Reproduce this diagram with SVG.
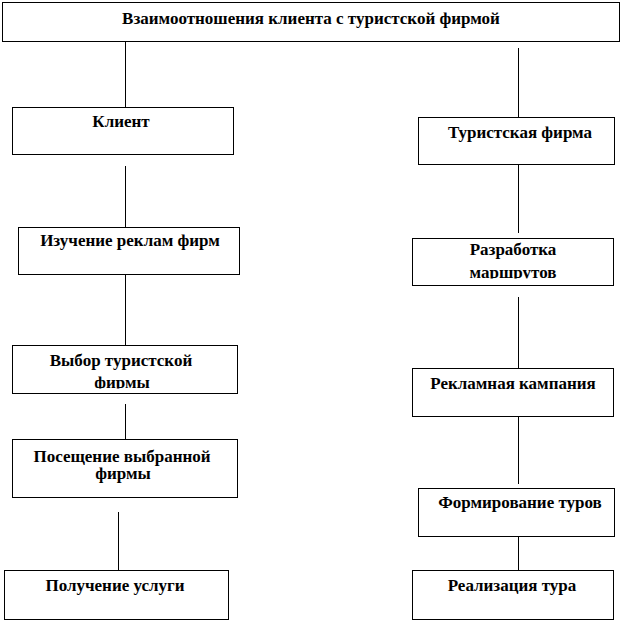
<svg xmlns="http://www.w3.org/2000/svg" width="623" height="623" viewBox="0 0 623 623">
<defs>
<clipPath id="cpVybor"><rect x="12" y="345" width="226" height="43.5"/></clipPath>
<clipPath id="cpRazr"><rect x="412" y="238" width="202" height="40.5"/></clipPath>
</defs>
<rect width="623" height="623" fill="#fff"/>
<g id="connectors" stroke="#000" stroke-width="1" fill="none">
<line x1="125.5" y1="41" x2="125.5" y2="107"/>
<line x1="518.5" y1="48" x2="518.5" y2="117"/>
<line x1="125.5" y1="166" x2="125.5" y2="232"/>
<line x1="125.5" y1="274" x2="125.5" y2="345"/>
<line x1="125.5" y1="404" x2="125.5" y2="440"/>
<line x1="118.5" y1="512" x2="118.5" y2="570"/>
<line x1="518.5" y1="164" x2="518.5" y2="233"/>
<line x1="518.5" y1="297" x2="518.5" y2="368"/>
<line x1="518.5" y1="416" x2="518.5" y2="484"/>
<line x1="518.5" y1="536" x2="518.5" y2="570"/>
</g>
<g id="title">
<rect fill="#fff" stroke="#000" stroke-width="1" x="2.5" y="2.5" width="617" height="39"/>
<text font-family="Liberation Serif" font-weight="bold" font-size="17" text-anchor="middle" x="311" y="24">Взаимоотношения клиента с туристской фирмой</text>
</g>
<g id="client">
<rect fill="#fff" stroke="#000" stroke-width="1" x="12.5" y="107.5" width="221" height="47"/>
<text font-family="Liberation Serif" font-weight="bold" font-size="17" text-anchor="middle" x="121" y="127">Клиент</text>
</g>
<g id="study">
<rect fill="#fff" stroke="#000" stroke-width="1" x="18.5" y="227.5" width="221" height="47"/>
<text font-family="Liberation Serif" font-weight="bold" font-size="17" text-anchor="middle" x="130" y="246">Изучение реклам фирм</text>
</g>
<g id="choice">
<rect fill="#fff" stroke="#000" stroke-width="1" x="12.5" y="345.5" width="225" height="48"/>
<g clip-path="url(#cpVybor)">
<text font-family="Liberation Serif" font-weight="bold" font-size="17" text-anchor="middle" x="121" y="366">Выбор туристской</text>
<text font-family="Liberation Serif" font-weight="bold" font-size="17" text-anchor="middle" x="122" y="388">фирмы</text>
</g>
</g>
<g id="visit">
<rect fill="#fff" stroke="#000" stroke-width="1" x="12.5" y="439.5" width="225" height="58"/>
<text font-family="Liberation Serif" font-weight="bold" font-size="17" text-anchor="middle" x="122" y="462">Посещение выбранной</text>
<text font-family="Liberation Serif" font-weight="bold" font-size="17" text-anchor="middle" x="123" y="479">фирмы</text>
</g>
<g id="service">
<rect fill="#fff" stroke="#000" stroke-width="1" x="4.5" y="570.5" width="224" height="49"/>
<text font-family="Liberation Serif" font-weight="bold" font-size="17" text-anchor="middle" x="115" y="591">Получение услуги</text>
</g>
<g id="firm">
<rect fill="#fff" stroke="#000" stroke-width="1" x="418.5" y="117.5" width="196" height="47"/>
<text font-family="Liberation Serif" font-weight="bold" font-size="17" text-anchor="middle" x="520" y="138">Туристская фирма</text>
</g>
<g id="routes">
<rect fill="#fff" stroke="#000" stroke-width="1" x="412.5" y="238.5" width="201" height="47"/>
<g clip-path="url(#cpRazr)">
<text font-family="Liberation Serif" font-weight="bold" font-size="17" text-anchor="middle" x="513" y="255">Разработка</text>
<text font-family="Liberation Serif" font-weight="bold" font-size="17" text-anchor="middle" x="513" y="278">маршрутов</text>
</g>
</g>
<g id="ads">
<rect fill="#fff" stroke="#000" stroke-width="1" x="412.5" y="368.5" width="201" height="48"/>
<text font-family="Liberation Serif" font-weight="bold" font-size="17" text-anchor="middle" x="513" y="389">Рекламная кампания</text>
</g>
<g id="tours">
<rect fill="#fff" stroke="#000" stroke-width="1" x="418.5" y="488.5" width="196" height="48"/>
<text font-family="Liberation Serif" font-weight="bold" font-size="17" text-anchor="middle" x="520" y="508">Формирование туров</text>
</g>
<g id="sale">
<rect fill="#fff" stroke="#000" stroke-width="1" x="412.5" y="570.5" width="201" height="49"/>
<text font-family="Liberation Serif" font-weight="bold" font-size="17" text-anchor="middle" x="512" y="591">Реализация тура</text>
</g>
</svg>
